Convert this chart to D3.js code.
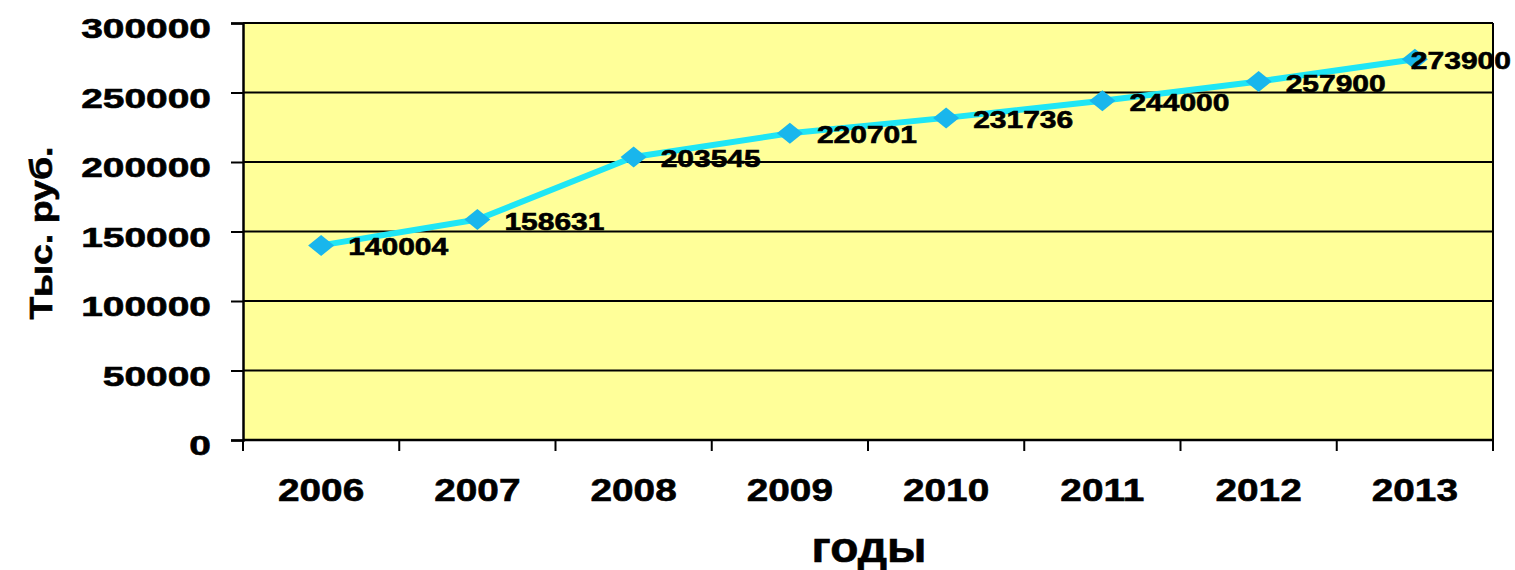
<!DOCTYPE html>
<html><head><meta charset="utf-8">
<script src="https://cdn.jsdelivr.net/npm/d3@7"></script>
<style>
html,body{margin:0;padding:0;background:#fff;}
text{font-family:"Liberation Sans",Arial,sans-serif;font-weight:bold;fill:#000;stroke:#000;stroke-width:0.6px;}
</style></head>
<body>
<svg id="chart" width="1515" height="570"></svg>
<script>
const years = ["2006","2007","2008","2009","2010","2011","2012","2013"];
const values = [140004,158631,203545,220701,231736,244000,257900,273900];
const yTicks = [0,50000,100000,150000,200000,250000,300000];
const yTitle = "Тыс. руб.";
const xTitle = "годы";

const svg = d3.select("#chart");
const L = 243, R = 1493, T = 23, B = 440;
const x = d3.scaleBand().domain(years).range([L, R]);
const y = d3.scaleLinear().domain([0, 300000]).range([B, T]);

function stretch(sel, sx){
  sel.each(function(){
    const w = this.getComputedTextLength();
    d3.select(this).attr("textLength", w*sx).attr("lengthAdjust","spacingAndGlyphs");
  });
}

// plot background
svg.append("rect").attr("x",L).attr("y",T).attr("width",R-L).attr("height",B-T).attr("fill","#FFFF99");

// gridlines
svg.append("g").selectAll("line").data(yTicks.filter(d=>d>0)).join("line")
  .attr("x1",L).attr("x2",R).attr("y1",d=>y(d)).attr("y2",d=>y(d))
  .attr("stroke","#000").attr("stroke-width",2);

// right border
svg.append("line").attr("x1",R).attr("x2",R).attr("y1",T).attr("y2",B).attr("stroke","#000").attr("stroke-width",2);

// y axis
const yAxis = d3.axisLeft(y).tickValues(yTicks).tickSize(12).tickPadding(20).tickFormat(d=>String(d));
const gy = svg.append("g").attr("transform",`translate(${L},0)`).call(yAxis);
gy.select(".domain").attr("stroke","#000").attr("stroke-width",2.5);
gy.selectAll(".tick line").attr("stroke","#000").attr("stroke-width",2);
gy.selectAll(".tick text").attr("font-size",28).attr("dy","0.52em").attr("font-family",null);
stretch(gy.selectAll(".tick text"), 1.39);

// x axis with ticks at band boundaries
const bounds = d3.range(years.length+1).map(i => L + i*x.step());
svg.append("line").attr("x1",L).attr("x2",R).attr("y1",B).attr("y2",B).attr("stroke","#000").attr("stroke-width",2.5);
svg.append("g").selectAll("line").data(bounds).join("line")
  .attr("x1",d=>d).attr("x2",d=>d).attr("y1",B).attr("y2",B+11)
  .attr("stroke","#000").attr("stroke-width",2);
const xl = svg.append("g").selectAll("text").data(years).join("text")
  .attr("x",d=>x(d)+x.bandwidth()/2).attr("y",501)
  .attr("text-anchor","middle").attr("font-size",31).text(d=>d);
stretch(xl, 1.25);

// line
const pts = years.map((yr,i)=>({yr, v:values[i]}));
svg.append("path").datum(pts)
  .attr("d", d3.line().x(d=>x(d.yr)+x.bandwidth()/2).y(d=>y(d.v)))
  .attr("fill","none").attr("stroke","#1FE6F5").attr("stroke-width",6).attr("stroke-linejoin","round");

// markers (diamonds)
svg.append("g").selectAll("path").data(pts).join("path")
  .attr("transform",d=>`translate(${x(d.yr)+x.bandwidth()/2},${y(d.v)})`)
  .attr("d","M0,-10.5L13,0L0,10.5L-13,0Z")
  .attr("fill","#19B6EC");

// data labels
const dl = svg.append("g").selectAll("text").data(pts).join("text")
  .attr("x",d=>x(d.yr)+x.bandwidth()/2+27).attr("y",d=>y(d.v)+10)
  .attr("font-size",24).text(d=>String(d.v));
stretch(dl, 1.25);
dl.each(function(d){
  const w = +d3.select(this).attr("textLength");
  const sx = +d3.select(this).attr("x");
  if (sx + w > 1511) d3.select(this).attr("x", 1511 - w);
});

// titles
svg.append("text").attr("transform","translate(52,233) rotate(-90)")
  .attr("text-anchor","middle").attr("font-size",32)
  .attr("textLength",173).attr("lengthAdjust","spacingAndGlyphs").text(yTitle);
svg.append("text").attr("x",869).attr("y",562).attr("text-anchor","middle")
  .attr("font-size",42).attr("textLength",115).attr("lengthAdjust","spacingAndGlyphs").text(xTitle);
</script>
</body></html>
